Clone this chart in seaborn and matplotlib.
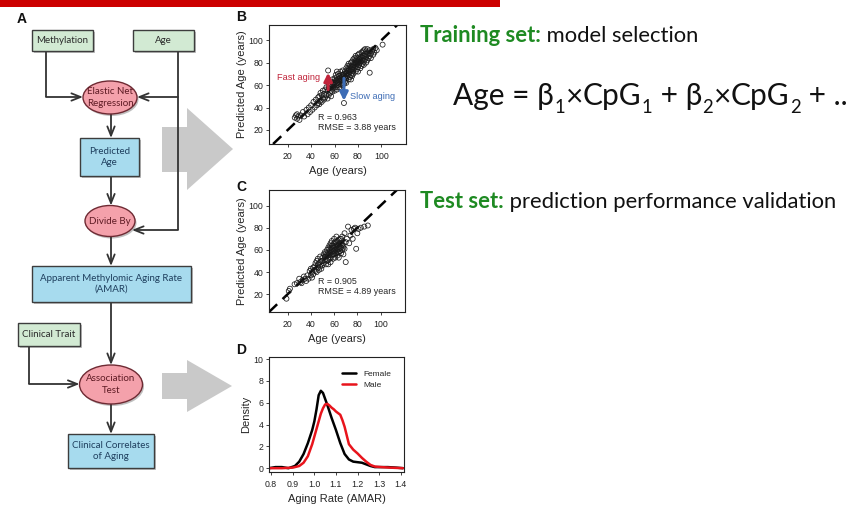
import matplotlib
matplotlib.use("Agg")
import matplotlib.pyplot as plt
import seaborn as sns
import pandas as pd
from matplotlib.patches import Rectangle, Ellipse, Polygon

# ---------------- data ----------------
# Panel B: training set, chronological age vs predicted age
train_age = [26, 27, 28, 29, 28, 30, 31, 33, 34, 36, 37, 38, 39, 40, 41, 42, 43, 44, 45, 46,
             46, 47, 47, 48, 48, 49, 49, 50, 50, 51, 51, 52, 52, 53, 53, 54, 54, 55, 55, 55,
             56, 56, 57, 57, 57, 58, 58, 58, 59, 59, 60, 60, 60, 61, 61, 61, 62, 62, 62, 63,
             63, 63, 64, 64, 64, 65, 65, 65, 65, 62,
             66, 66, 66, 67, 67, 67, 68, 68, 68, 69, 69, 69, 70, 70, 70, 70, 71, 71, 71, 72,
             72, 72, 72, 73, 73, 73, 74, 74, 74, 74, 75, 75, 75, 75,
             76, 76, 76, 76, 77, 77, 77, 78, 78, 78, 78, 79, 79, 79, 80, 80, 80, 80, 81, 81,
             81, 82, 82, 82, 83, 83, 83, 84, 84, 84, 85, 85, 85, 85,
             86, 86, 86, 87, 87, 87, 88, 88, 88, 89, 89, 90, 90, 90, 91, 91, 92, 93, 93, 94,
             95, 96, 101,
             54.5, 68,
             60, 62, 64, 66, 68, 70, 72, 74, 76, 78, 80, 82, 84, 86, 63, 67, 71, 75, 79, 83,
             69, 73, 77, 81, 65, 59, 57, 61]
train_pred = [31, 33, 30, 32, 34, 29, 33, 36, 32, 38, 34, 40, 36, 42, 38, 45, 40, 47, 42, 49,
              44, 50, 43, 46, 53, 45, 51, 48, 55, 47, 52, 56, 49, 51, 58, 48, 55, 60, 51, 57,
              53, 61, 55, 63, 50, 59, 54, 65, 57, 62, 55, 66, 60, 58, 64, 69, 56, 62, 67, 60,
              65, 70, 58, 63, 68, 61, 66, 72, 57, 72,
              64, 69, 60, 62, 67, 73, 65, 70, 61, 67, 72, 63, 66, 71, 75, 62, 68, 73, 77, 65,
              70, 75, 79, 67, 72, 77, 69, 74, 80, 65, 71, 76, 81, 68,
              73, 78, 83, 70, 75, 80, 84, 72, 77, 82, 86, 74, 79, 84, 76, 81, 87, 72, 78, 83,
              88, 75, 80, 85, 77, 82, 89, 79, 84, 90, 81, 86, 78, 91,
              83, 88, 92, 80, 85, 90, 82, 87, 92, 84, 89, 86, 91, 71, 84, 88, 90, 87, 92, 89,
              93, 91, 96,
              73, 44,
              62, 64, 65, 67, 68, 70, 73, 76, 76, 79, 80, 83, 86, 86, 62, 69, 71, 74, 81, 85,
              66, 74, 78, 81, 64, 60, 58, 61]

# Panel C: test set, chronological age vs predicted age
test_age = [19, 21, 22, 26, 28, 30, 31, 33, 34, 36, 37, 38, 39, 40, 40, 41, 42, 43, 44, 44,
            45, 45, 46, 46, 47, 47, 48, 48, 49, 49, 50, 50, 51, 51, 52, 52, 53, 53, 54, 54,
            55, 55, 55, 56, 56, 57, 57, 57, 58, 58, 58, 59, 59, 59, 60, 60, 60, 61, 61, 61,
            62, 62, 62, 63, 63, 63, 64, 64, 64, 65, 65, 66, 66, 67, 67, 68, 68, 69, 69, 70,
            70, 71, 72, 73, 74, 75, 76, 77, 78, 79, 80, 81, 83, 86, 89,
            56, 58, 60, 62, 59, 61, 63, 57, 55, 53, 50, 48, 46, 43, 42, 41, 35, 32, 66, 67,
            65, 64, 63, 60, 58, 54, 52, 56, 59, 62, 64, 57, 61, 65, 68, 66]
test_pred = [16, 23, 25, 29, 30, 34, 31, 33, 36, 32, 37, 34, 41, 37, 43, 40, 38, 45, 41, 48,
             40, 50, 44, 52, 42, 48, 54, 45, 50, 43, 53, 46, 56, 48, 51, 58, 47, 54, 60, 50,
             55, 47, 62, 52, 64, 57, 49, 66, 55, 61, 68, 52, 59, 64, 56, 62, 70, 53, 60, 67,
             57, 64, 72, 55, 61, 68, 58, 65, 53, 62, 70, 57, 66, 60, 72, 64, 56, 61, 75, 67,
             49, 70, 81, 66, 73, 78, 70, 79, 80, 61, 75, 79, 80, 81, 82,
             58, 58, 59, 61, 56, 63, 64, 60, 51, 57, 50, 49, 47, 42, 44, 35, 34, 30, 62, 65,
             66, 61, 58, 66, 64, 56, 54, 61, 62, 67, 69, 53, 57, 59, 62, 70]

# Panel D: density of the aging rate by sex
female_rate = [0.79, 0.82, 0.85, 0.88, 0.91, 0.93, 0.95, 0.97, 0.99, 1.00, 1.01, 1.02, 1.03,
               1.04, 1.06, 1.08, 1.10, 1.12, 1.14, 1.16, 1.18, 1.20, 1.22, 1.24, 1.26, 1.28,
               1.30, 1.34, 1.38, 1.41]
female_density = [0.0, 0.1, 0.1, 0.0, 0.2, 0.6, 1.3, 2.3, 3.5, 4.3, 5.4, 6.7, 7.1,
                  6.9, 5.8, 4.6, 3.5, 2.3, 1.3, 0.8, 0.6, 0.55, 0.5, 0.35, 0.2, 0.1,
                  0.1, 0.1, 0.05, 0.0]
male_rate = [0.79, 0.85, 0.90, 0.93, 0.95, 0.97, 0.99, 1.00, 1.01, 1.02, 1.03, 1.04, 1.05,
             1.06, 1.07, 1.08, 1.09, 1.10, 1.11, 1.12, 1.13, 1.14, 1.15, 1.16, 1.18, 1.20,
             1.22, 1.24, 1.26, 1.28, 1.31, 1.35, 1.41]
male_density = [0.0, 0.0, 0.05, 0.2, 0.5, 1.1, 2.2, 2.9, 3.6, 4.3, 5.0, 5.5, 5.85,
                5.9, 5.75, 5.55, 5.4, 5.2, 5.05, 4.9, 4.4, 3.8, 3.0, 2.2, 1.7, 1.35,
                0.95, 0.6, 0.3, 0.15, 0.1, 0.05, 0.0]

age_ticks = [20, 40, 60, 80, 100]
rate_ticks = [0.8, 0.9, 1.0, 1.1, 1.2, 1.3, 1.4]
density_ticks = [0, 2, 4, 6, 8, 10]

train_stats = "R = 0.963\nRMSE = 3.88 years"
test_stats = "R = 0.905\nRMSE = 4.89 years"

# ---------------- style ----------------
sns.set_theme(style="ticks")
plt.rcParams["font.family"] = ["Liberation Sans", "DejaVu Sans"]
plt.rcParams["axes.edgecolor"] = "#222222"
plt.rcParams["axes.linewidth"] = 0.8

FLOW_FONT = ["Lato", "DejaVu Sans"]
SLIDE_FONT = ["Lato", "DejaVu Sans"]
GREEN_TXT = "#1e8a22"
TICK_FS = 6.3
LABEL_FS = 8.0

W, H = 850, 509
fig = plt.figure(figsize=(W / 100, H / 100), dpi=100)
fig.patch.set_facecolor("white")

# canvas in pixel units for the diagram and slide text
bg = fig.add_axes([0, 0, 1, 1])
bg.set_xlim(0, W)
bg.set_ylim(H, 0)
bg.axis("off")


def px_axes(left, top, right, bottom):
    return fig.add_axes([left / W, 1 - bottom / H, (right - left) / W, (bottom - top) / H])


# red title bar
bg.add_patch(Rectangle((0, 0), 500, 7, fc="#cc0000", ec="none"))

# ---------------- flowchart ----------------
LINE = "#333333"
FLOW_FS = 7.0


def box(x0, y0, x1, y1, fc, text, tc):
    bg.add_patch(Rectangle((x0 + 2, y0 + 2), x1 - x0, y1 - y0, fc="#8c8c8c", ec="none",
                           alpha=0.55, zorder=1))
    bg.add_patch(Rectangle((x0, y0), x1 - x0, y1 - y0, fc=fc, ec="#3d3d3d", lw=1.0, zorder=2))
    bg.text((x0 + x1) / 2, (y0 + y1) / 2, text, ha="center", va="center", fontsize=FLOW_FS,
            color=tc, family=FLOW_FONT, zorder=3, linespacing=1.3)


def oval(cx, cy, w, h, text):
    bg.add_patch(Ellipse((cx + 1.5, cy + 2), w, h, fc="#8c8c8c", ec="none", alpha=0.55, zorder=1))
    bg.add_patch(Ellipse((cx, cy), w, h, fc="#f4a1ab", ec="#6e2a33", lw=1.0, zorder=2))
    bg.text(cx, cy, text, ha="center", va="center", fontsize=FLOW_FS, color="#5e1b24",
            family=FLOW_FONT, zorder=3, linespacing=1.3)


def seg(xs, ys):
    bg.plot(xs, ys, color=LINE, lw=1.3, solid_capstyle="butt", zorder=1.5)


def arrow(p0, p1):
    bg.annotate("", xy=p1, xytext=p0, zorder=1.5,
                arrowprops=dict(arrowstyle="->,head_length=0.55,head_width=0.22",
                                lw=1.3, color=LINE, shrinkA=0, shrinkB=0))


GREEN, BLUE = "#d2ead3", "#a7dbee"
box(32, 30, 93, 51, GREEN, "Methylation", "#2a2a2a")
box(133, 30, 194, 51, GREEN, "Age", "#2a2a2a")
oval(110, 97.5, 54, 33, "Elastic Net\nRegression")
box(80, 138, 139, 176, BLUE, "Predicted\nAge", "#1f3f5e")
oval(110, 221, 50, 31, "Divide By")
box(32, 266, 191, 302, BLUE, "Apparent Methylomic Aging Rate\n(AMAR)", "#1f3f5e")
box(18, 323, 80, 346, GREEN, "Clinical Trait", "#2a2a2a")
oval(111, 384.5, 63, 39, "Association\nTest")
box(68, 434, 154, 468, BLUE, "Clinical Correlates\nof Aging", "#1f3f5e")

seg([46, 46], [51, 97])
arrow((46, 97), (83, 97))
seg([178, 178], [51, 230])
arrow((178, 97), (137, 97))
arrow((178, 230), (132, 230))
arrow((111, 114), (111, 138))
arrow((111, 176), (111, 205.5))
arrow((111, 236.5), (111, 266))
arrow((111, 302), (111, 365))
seg([29, 29], [346, 384])
arrow((29, 384), (79.5, 384))
arrow((111, 404), (111, 434))

# big grey pointers towards the result panels
bg.add_patch(Polygon([(162, 127), (187, 127), (187, 108), (233, 149), (187, 190),
                      (187, 172), (162, 172)], closed=True, fc="#c9c9c9", ec="none"))
bg.add_patch(Polygon([(162, 373), (187, 373), (187, 360), (232, 386), (187, 412),
                      (187, 399), (162, 399)], closed=True, fc="#c9c9c9", ec="none"))

# panel letters
for lbl, x, y in [("A", 22, 19), ("B", 241, 17), ("C", 241, 187), ("D", 241, 350)]:
    bg.text(x, y, lbl, ha="center", va="center", fontsize=10, fontweight="bold", color="#111111")


# ---------------- scatter panels ----------------
def scatter_panel(ax, ages, preds, stats):
    df = pd.DataFrame({"age": ages, "pred": preds})
    ax.axline((0, 0), (1, 1), color="black", lw=1.8, ls=(0, (4.5, 3)), zorder=1)
    sns.scatterplot(data=df, x="age", y="pred", ax=ax, marker="o", s=13,
                    facecolor="none", edgecolor="#1a1a1a", linewidth=0.55, zorder=2)
    ax.set_xlim(4, 121)
    ax.set_xticks(age_ticks)
    ax.set_yticks(age_ticks)
    ax.set_xlabel("Age (years)", fontsize=LABEL_FS, labelpad=4)
    ax.set_ylabel("Predicted Age (years)", fontsize=LABEL_FS, labelpad=1.5)
    ax.tick_params(length=2.5, width=0.6, labelsize=TICK_FS, pad=1.5, colors="#222222")
    ax.tick_params(axis="x", pad=3)
    ax.text(46, 27, stats, fontsize=6.4, va="center", ha="left", linespacing=1.15)


axB = px_axes(269, 25, 406, 144)
scatter_panel(axB, train_age, train_pred, train_stats)
axB.set_ylim(7.5, 113.5)
axB.annotate("", xy=(54.5, 71), xytext=(54.5, 56),
             arrowprops=dict(arrowstyle="-|>,head_length=0.4,head_width=0.2", lw=2.2,
                             color="#c0243a", shrinkA=0, shrinkB=0))
axB.annotate("", xy=(68, 46), xytext=(68, 66),
             arrowprops=dict(arrowstyle="-|>,head_length=0.4,head_width=0.2", lw=2.2,
                             color="#3d6cb5", shrinkA=0, shrinkB=0))
axB.text(48, 67, "Fast aging", color="#c0243a", fontsize=6.6, ha="right", va="center")
axB.text(73, 50, "Slow aging", color="#3d6cb5", fontsize=6.6, ha="left", va="center")

axC = px_axes(269, 190, 405, 312)
scatter_panel(axC, test_age, test_pred, test_stats)
axC.set_ylim(4, 114)

# ---------------- density panel ----------------
axD = px_axes(269, 357, 404, 472)
sns.lineplot(x=female_rate, y=female_density, ax=axD, color="black", lw=1.8, label="Female")
sns.lineplot(x=male_rate, y=male_density, ax=axD, color="#e8141c", lw=1.8, label="Male")
axD.set_xlim(0.79, 1.415)
axD.set_ylim(-0.35, 10.2)
axD.set_xticks(rate_ticks)
axD.set_xticklabels([f"{v:.1f}" for v in rate_ticks])
axD.set_yticks(density_ticks)
axD.set_xlabel("Aging Rate (AMAR)", fontsize=LABEL_FS, labelpad=4)
axD.set_ylabel("Density", fontsize=LABEL_FS, labelpad=2)
axD.tick_params(length=2.5, width=0.6, labelsize=TICK_FS, pad=1.5, colors="#222222")
axD.tick_params(axis="x", pad=3)
axD.legend(loc="upper right", bbox_to_anchor=(0.95, 0.94), frameon=False, fontsize=6.0,
           handlelength=1.7, handletextpad=0.9, labelspacing=0.45, borderaxespad=0.3)

# ---------------- slide text ----------------
def label_pair(y, bold, rest, size):
    t = bg.text(420, y, bold, fontsize=size, fontweight="bold", color=GREEN_TXT,
                family=SLIDE_FONT, va="center", ha="left")
    bg.annotate(rest, xy=(1, 0), xycoords=t, va="bottom", ha="left", fontsize=size,
                color="#111111", family=SLIDE_FONT)


label_pair(35, "Training set:", " model selection", 15.8)
label_pair(202, "Test set:", " prediction performance validation", 15.8)

# equation built from pieces so the indices sit below the baseline
EQ = 21.5
pieces = [("Age = β", False), ("1", True), ("×", False), ("CpG", False), ("1", True),
          (" + β", False), ("2", True), ("×", False), ("CpG", False), ("2", True),
          (" + ..", False)]
prev = bg.text(453, 96, pieces[0][0], fontsize=EQ, family=SLIDE_FONT, va="center",
               ha="left", color="#111111")
main = prev
for txt, sub in pieces[1:]:
    if sub:
        prev = bg.annotate(txt, xy=(1, 0), xycoords=(prev, main), xytext=(0.5, -4),
                           textcoords="offset points", va="bottom", ha="left",
                           fontsize=EQ * 0.62, family=SLIDE_FONT, color="#111111")
    else:
        prev = bg.annotate(txt, xy=(1, 0), xycoords=(prev, main), va="bottom", ha="left",
                           fontsize=EQ, family=SLIDE_FONT, color="#111111")

fig.savefig("out.png", dpi=100, facecolor="white")
